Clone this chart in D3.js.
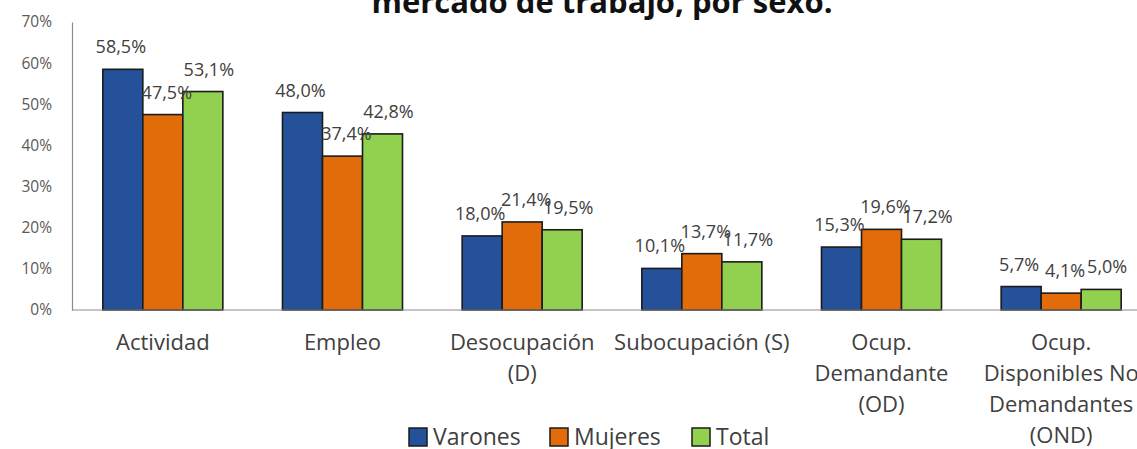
<!DOCTYPE html>
<html>
<head>
<meta charset="utf-8">
<script src="https://cdn.jsdelivr.net/npm/d3@7"></script>
<style>
  body { margin: 0; background: #fff; }
  svg { display: block; font-family: "Open Sans", "Noto Sans", sans-serif; }
  .tick text { fill: #595959; }
</style>
</head>
<body>
<div id="chart"></div>
<script>
// chart values
var categories = [
    ["Actividad"],
    ["Empleo"],
    ["Desocupación", "(D)"],
    ["Subocupación (S)"],
    ["Ocup.", "Demandante", "(OD)"],
    ["Ocup.", "Disponibles No", "Demandantes", "(OND)"]
];
var seriesNames = ["Varones", "Mujeres", "Total"];
var varones = [58.5, 48.0, 18.0, 10.1, 15.3, 5.7];
var mujeres = [47.5, 37.4, 21.4, 13.7, 19.6, 4.1];
var total   = [53.1, 42.8, 19.5, 11.7, 17.2, 5.0];
var yTicks  = [0, 10, 20, 30, 40, 50, 60, 70];
var title   = "mercado de trabajo, por sexo.";

var colors = ["#24519a", "#e36c0a", "#92d050"];
var labelShift = [-2, 4, 6];   // data labels sit a bit off centre in the original

var width = 1137, height = 449;
var values = [varones, mujeres, total];

var svg = d3.select("#chart").append("svg")
    .attr("width", width)
    .attr("height", height);

// title, its upper part is cut off by the frame
svg.append("text")
    .attr("x", 602)
    .attr("y", 13)
    .attr("text-anchor", "middle")
    .attr("font-size", 31)
    .attr("font-weight", "bold")
    .attr("fill", "#111")
    .text(title);

var x0 = d3.scaleBand()
    .domain(d3.range(categories.length))
    .range([73, 1151])
    .paddingInner(0.332)
    .paddingOuter(0.166);
var x1 = d3.scaleBand()
    .domain(d3.range(seriesNames.length))
    .range([0, x0.bandwidth()]);
var y = d3.scaleLinear()
    .domain([0, 70])
    .range([310, 22]);

// y axis
var yAxis = svg.append("g")
    .attr("transform", "translate(72,0)")
    .call(d3.axisLeft(y).tickValues(yTicks).tickSize(0).tickPadding(20)
        .tickFormat(function(d) { return d + "%"; }));
yAxis.select(".domain").attr("stroke", "#8c8c8c").attr("stroke-width", 1.2);
yAxis.selectAll("text").attr("font-size", 15.5).attr("font-family", "Open Sans");

// bars
var groups = svg.selectAll(".grp")
    .data(categories)
    .enter().append("g")
    .attr("class", "grp")
    .attr("transform", function(d, i) { return "translate(" + x0(i) + ",0)"; });

var locale = d3.formatLocale({decimal: ",", thousands: ".", grouping: [3], currency: ["", ""]});
var fmt = locale.format(".1f");

groups.each(function(c, ci) {
    var g = d3.select(this);
    values.forEach(function(arr, si) {
        var v = arr[ci];
        g.append("rect")
            .attr("x", x1(si))
            .attr("y", y(v))
            .attr("width", x1.bandwidth())
            .attr("height", y(0) - y(v))
            .attr("fill", colors[si])
            .attr("stroke", "#1b1b1b")
            .attr("stroke-width", 1.6);
    });
});

// x axis line
svg.append("line")
    .attr("x1", 72).attr("x2", width)
    .attr("y1", y(0)).attr("y2", y(0))
    .attr("stroke", "#8c8c8c")
    .attr("stroke-width", 1.2);

// data labels drawn after all bars so they can overlap neighbours
groups.each(function(c, ci) {
    var g = d3.select(this);
    values.forEach(function(arr, si) {
        var v = arr[ci];
        g.append("text")
            .attr("x", x1(si) + x1.bandwidth() / 2 + labelShift[si])
            .attr("y", y(v) - 16)
            .attr("text-anchor", "middle")
            .attr("font-size", 18)
            .attr("fill", "#404040")
            .text(fmt(v) + "%");
    });
});

// category labels
groups.append("text")
    .attr("x", x0.bandwidth() / 2)
    .attr("y", 350)
    .attr("text-anchor", "middle")
    .attr("font-size", 22)
    .attr("fill", "#404040")
    .selectAll("tspan")
    .data(function(d) { return d; })
    .enter().append("tspan")
    .attr("x", x0.bandwidth() / 2)
    .attr("dy", function(d, i) { return i === 0 ? 0 : 31; })
    .text(function(d) { return d; });

// legend
var legendX = [409, 550, 692];
var legend = svg.selectAll(".leg")
    .data(seriesNames)
    .enter().append("g")
    .attr("class", "leg")
    .attr("transform", function(d, i) { return "translate(" + legendX[i] + ",428)"; });
legend.append("rect")
    .attr("width", 18).attr("height", 18)
    .attr("fill", function(d, i) { return colors[i]; })
    .attr("stroke", "#1b1b1b")
    .attr("stroke-width", 1.5);
legend.append("text")
    .attr("x", 24)
    .attr("y", 17)
    .attr("font-size", 23)
    .attr("fill", "#404040")
    .text(function(d) { return d; });
</script>
</body>
</html>
